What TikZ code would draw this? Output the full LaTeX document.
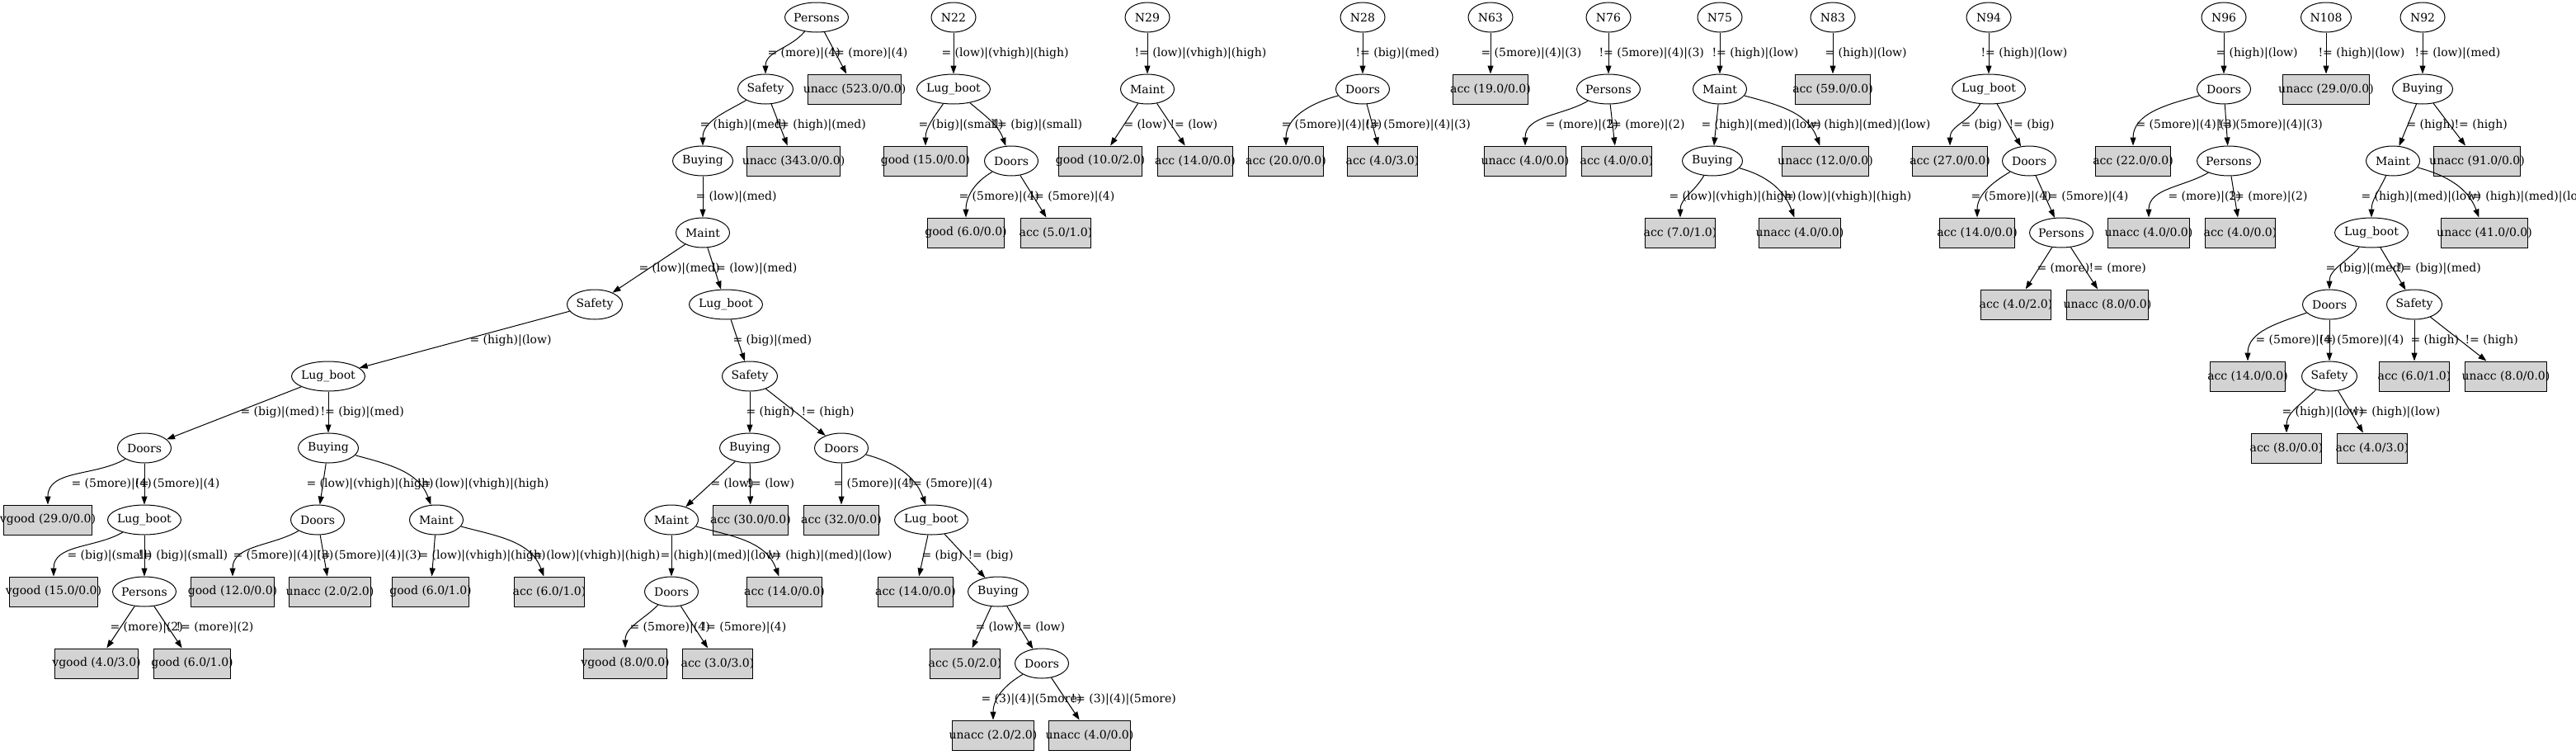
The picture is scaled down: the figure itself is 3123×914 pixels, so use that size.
\documentclass[tikz,border=0pt]{standalone}
\usepackage{fontspec}
\setmainfont{DejaVu Serif}
\newfontfamily\timesfont{Liberation Serif}
\usetikzlibrary{shapes.geometric,arrows.meta}
\definecolor{leafgray}{HTML}{D3D3D3}

% leaf boxes are as wide as the Times text, attribute text does not size its ellipse
\newlength\leafwd
\newcommand\leaftxt[1]{\settowidth\leafwd{\timesfont #1}\makebox[\leafwd]{#1}}
\newcommand\attrtxt[1]{\makebox[0pt]{#1}}

\begin{document}
\begin{tikzpicture}[x=1bp,y=1bp,-{Triangle[length=10bp,width=7bp]},line width=1bp,font=\fontsize{14bp}{17bp}\selectfont]
				\tikzstyle{attr}=[ellipse,draw,minimum width=54bp,minimum height=36bp,inner sep=0pt]
			    \tikzstyle{leaf}=[rectangle,draw,fill=leafgray,minimum height=36bp,inner xsep=7bp,inner ysep=0pt]
			    \tikzstyle{lbl}=[anchor=west,inner sep=0pt]
			    \tikzstyle{lc}=[out=-150,in=90]
			    \tikzstyle{rc}=[out=-15,in=110]

			    \useasboundingbox (0,0) rectangle (3123,-914);

			    % Tree rooted at Persons
			    \node[attr,minimum width=77bp] (a0) at (990,-21) {\attrtxt{Persons}};
			    \node[attr,minimum width=67bp] (a1) at (928,-108) {\attrtxt{Safety}};
			    \node[leaf] (a2) at (1036,-108) {\leaftxt{unacc (523.0/0.0)}};
			    \node[attr,minimum width=73bp] (a3) at (852,-195) {\attrtxt{Buying}};
			    \node[leaf] (a4) at (962,-195) {\leaftxt{unacc (343.0/0.0)}};
			    \node[attr,minimum width=65bp] (a5) at (852,-282) {\attrtxt{Maint}};
			    \node[attr,minimum width=67bp] (a6) at (721,-369) {\attrtxt{Safety}};
			    \node[attr,minimum width=89bp] (a7) at (880,-369) {\attrtxt{Lug\_boot}};
			    \node[attr,minimum width=89bp] (a8) at (398,-456) {\attrtxt{Lug\_boot}};
			    \node[attr,minimum width=67bp] (a9) at (909,-456) {\attrtxt{Safety}};
			    \node[attr,minimum width=65bp] (a10) at (175,-543) {\attrtxt{Doors}};
			    \node[attr,minimum width=73bp] (a11) at (398,-543) {\attrtxt{Buying}};
			    \node[attr,minimum width=73bp] (a12) at (909,-543) {\attrtxt{Buying}};
			    \node[attr,minimum width=65bp] (a13) at (1020,-543) {\attrtxt{Doors}};
			    \node[leaf] (a14) at (58,-630) {\leaftxt{vgood (29.0/0.0)}};
			    \node[attr,minimum width=89bp] (a15) at (175,-630) {\attrtxt{Lug\_boot}};
			    \node[attr,minimum width=65bp] (a16) at (385,-630) {\attrtxt{Doors}};
			    \node[attr,minimum width=65bp] (a17) at (529,-630) {\attrtxt{Maint}};
			    \node[attr,minimum width=65bp] (a18) at (814,-630) {\attrtxt{Maint}};
			    \node[leaf] (a19) at (910,-630) {\leaftxt{acc (30.0/0.0)}};
			    \node[leaf] (a20) at (1020,-630) {\leaftxt{acc (32.0/0.0)}};
			    \node[attr,minimum width=89bp] (a21) at (1129,-630) {\attrtxt{Lug\_boot}};
			    \node[leaf] (a22) at (65,-717) {\leaftxt{vgood (15.0/0.0)}};
			    \node[attr,minimum width=77bp] (a23) at (175,-717) {\attrtxt{Persons}};
			    \node[leaf] (a24) at (282,-717) {\leaftxt{good (12.0/0.0)}};
			    \node[leaf] (a25) at (400,-717) {\leaftxt{unacc (2.0/2.0)}};
			    \node[leaf] (a26) at (522,-717) {\leaftxt{good (6.0/1.0)}};
			    \node[leaf] (a27) at (666,-717) {\leaftxt{acc (6.0/1.0)}};
			    \node[attr,minimum width=65bp] (a28) at (814,-717) {\attrtxt{Doors}};
			    \node[leaf] (a29) at (951,-717) {\leaftxt{acc (14.0/0.0)}};
			    \node[leaf] (a30) at (1110,-717) {\leaftxt{acc (14.0/0.0)}};
			    \node[attr,minimum width=73bp] (a31) at (1210,-717) {\attrtxt{Buying}};
			    \node[leaf] (a32) at (117,-804) {\leaftxt{vgood (4.0/3.0)}};
			    \node[leaf] (a33) at (233,-804) {\leaftxt{good (6.0/1.0)}};
			    \node[leaf] (a34) at (758,-804) {\leaftxt{vgood (8.0/0.0)}};
			    \node[leaf] (a35) at (870,-804) {\leaftxt{acc (3.0/3.0)}};
			    \node[leaf] (a36) at (1170,-804) {\leaftxt{acc (5.0/2.0)}};
			    \node[attr,minimum width=65bp] (a37) at (1263,-804) {\attrtxt{Doors}};
			    \node[leaf] (a38) at (1204,-891) {\leaftxt{unacc (2.0/2.0)}};
			    \node[leaf] (a39) at (1321,-891) {\leaftxt{unacc (4.0/0.0)}};

			    \path (a0) edge[out=-130,in=90] (a1);  \node[lbl] (la1) at (930,-64.5) {= (more)|(4)};
			    \path (a0) edge (a2);                  \node[lbl] (la2) at (1006,-64.5) {!= (more)|(4)};
			    \path (a1) edge[lc] (a3);              \node[lbl] (la3) at (848,-151.5) {= (high)|(med)};
			    \path (a1) edge (a4);                  \node[lbl] (la4) at (939,-151.5) {!= (high)|(med)};
			    \path (a3) edge (a5);                  \node[lbl] (la5) at (843,-238.5) {= (low)|(med)};
			    \path (a5) edge (a6);                  \node[lbl] (la6) at (774,-325.5) {= (low)|(med)};
			    \path (a5) edge (a7);                  \node[lbl] (la7) at (862,-325.5) {!= (low)|(med)};
			    \path (a6) edge (a8);                  \node[lbl] (la8) at (569,-412.5) {= (high)|(low)};
			    \path (a7) edge (a9);                  \node[lbl] (la9) at (888,-412.5) {= (big)|(med)};
			    \path (a8) edge (a10);                 \node[lbl] (la10) at (291,-499.5) {= (big)|(med)};
			    \path (a8) edge (a11);                 \node[lbl] (la11) at (388,-499.5) {!= (big)|(med)};
			    \path (a9) edge (a12);                 \node[lbl] (la12) at (904,-499.5) {= (high)};
			    \path (a9) edge (a13);                 \node[lbl] (la13) at (971,-499.5) {!= (high)};
			    \path (a10) edge[lc] (a14);            \node[lbl] (la14) at (86,-586.5) {= (5more)|(4)};
			    \path (a10) edge (a15);                \node[lbl] (la15) at (163,-586.5) {!= (5more)|(4)};
			    \path (a11) edge (a16);                \node[lbl] (la16) at (371,-586.5) {= (low)|(vhigh)|(high)};
			    \path (a11) edge[rc] (a17);            \node[lbl] (la17) at (505,-586.5) {!= (low)|(vhigh)|(high)};
			    \path (a12) edge (a18);                \node[lbl] (la18) at (861,-586.5) {= (low)};
			    \path (a12) edge (a19);                \node[lbl] (la19) at (905,-586.5) {!= (low)};
			    \path (a13) edge (a20);                \node[lbl] (la20) at (1010,-586.5) {= (5more)|(4)};
			    \path (a13) edge[rc] (a21);            \node[lbl] (la21) at (1100,-586.5) {!= (5more)|(4)};
			    \path (a15) edge[lc] (a22);            \node[lbl] (la22) at (81,-673.5) {= (big)|(small)};
			    \path (a15) edge (a23);                \node[lbl] (la23) at (167,-673.5) {!= (big)|(small)};
			    \path (a16) edge[lc] (a24);            \node[lbl] (la24) at (282,-673.5) {= (5more)|(4)|(3)};
			    \path (a16) edge (a25);                \node[lbl] (la25) at (383,-673.5) {!= (5more)|(4)|(3)};
			    \path (a17) edge (a26);                \node[lbl] (la26) at (507,-673.5) {= (low)|(vhigh)|(high)};
			    \path (a17) edge[rc] (a27);            \node[lbl] (la27) at (640,-673.5) {!= (low)|(vhigh)|(high)};
			    \path (a18) edge (a28);                \node[lbl] (la28) at (800,-673.5) {= (high)|(med)|(low)};
			    \path (a18) edge[rc] (a29);            \node[lbl] (la29) at (930,-673.5) {!= (high)|(med)|(low)};
			    \path (a21) edge (a30);                \node[lbl] (la30) at (1117,-673.5) {= (big)};
			    \path (a21) edge (a31);                \node[lbl] (la31) at (1173,-673.5) {!= (big)};
			    \path (a23) edge (a32);                \node[lbl] (la32) at (133,-760.5) {= (more)|(2)};
			    \path (a23) edge (a33);                \node[lbl] (la33) at (213,-760.5) {!= (more)|(2)};
			    \path (a28) edge[out=-135,in=90] (a34); \node[lbl] (la34) at (763,-760.5) {= (5more)|(4)};
			    \path (a28) edge (a35);                \node[lbl] (la35) at (850,-760.5) {!= (5more)|(4)};
			    \path (a31) edge (a36);                \node[lbl] (la36) at (1182,-760.5) {= (low)};
			    \path (a31) edge (a37);                \node[lbl] (la37) at (1233,-760.5) {!= (low)};
			    \path (a37) edge[lc] (a38);            \node[lbl] (la38) at (1189,-847.5) {= (3)|(4)|(5more)};
			    \path (a37) edge (a39);                \node[lbl] (la39) at (1298,-847.5) {!= (3)|(4)|(5more)};

			    % N22
			    \node[attr] (b0) at (1156,-21) {\attrtxt{N22}};
			    \node[attr,minimum width=89bp] (b1) at (1156,-108) {\attrtxt{Lug\_boot}};
			    \node[leaf] (b2) at (1122,-195) {\leaftxt{good (15.0/0.0)}};
			    \node[attr,minimum width=65bp] (b3) at (1226,-195) {\attrtxt{Doors}};
			    \node[leaf] (b4) at (1171,-282) {\leaftxt{good (6.0/0.0)}};
			    \node[leaf] (b5) at (1280,-282) {\leaftxt{acc (5.0/1.0)}};
			    \path (b0) edge (b1);                  \node[lbl] (lb1) at (1141,-64.5) {= (low)|(vhigh)|(high)};
			    \path (b1) edge[out=-125,in=90] (b2);  \node[lbl] (lb2) at (1113,-151.5) {= (big)|(small)};
			    \path (b1) edge[out=-40,in=110] (b3);  \node[lbl] (lb3) at (1203,-151.5) {!= (big)|(small)};
			    \path (b3) edge[lc] (b4);              \node[lbl] (lb4) at (1162,-238.5) {= (5more)|(4)};
			    \path (b3) edge (b5);                  \node[lbl] (lb5) at (1248,-238.5) {!= (5more)|(4)};

			    % N29
			    \node[attr] (c0) at (1391,-21) {\attrtxt{N29}};
			    \node[attr,minimum width=65bp] (c1) at (1391,-108) {\attrtxt{Maint}};
			    \node[leaf] (c2) at (1334,-195) {\leaftxt{good (10.0/2.0)}};
			    \node[leaf] (c3) at (1449,-195) {\leaftxt{acc (14.0/0.0)}};
			    \path (c0) edge (c1);                  \node[lbl] (lc1) at (1375,-64.5) {!= (low)|(vhigh)|(high)};
			    \path (c1) edge (c2);                  \node[lbl] (lc2) at (1362,-151.5) {= (low)};
			    \path (c1) edge (c3);                  \node[lbl] (lc3) at (1418,-151.5) {!= (low)};

			    % N28
			    \node[attr] (d0) at (1652,-21) {\attrtxt{N28}};
			    \node[attr,minimum width=65bp] (d1) at (1652,-108) {\attrtxt{Doors}};
			    \node[leaf] (d2) at (1559,-195) {\leaftxt{acc (20.0/0.0)}};
			    \node[leaf] (d3) at (1676,-195) {\leaftxt{acc (4.0/3.0)}};
			    \path (d0) edge (d1);                  \node[lbl] (ld1) at (1643,-64.5) {!= (big)|(med)};
			    \path (d1) edge[out=-165,in=90] (d2);  \node[lbl] (ld2) at (1553,-151.5) {= (5more)|(4)|(3)};
			    \path (d1) edge (d3);                  \node[lbl] (ld3) at (1655,-151.5) {!= (5more)|(4)|(3)};

			    % N63
			    \node[attr] (e0) at (1807,-21) {\attrtxt{N63}};
			    \node[leaf] (e1) at (1807,-108) {\leaftxt{acc (19.0/0.0)}};
			    \path (e0) edge (e1);                  \node[lbl] (le1) at (1795,-64.5) {= (5more)|(4)|(3)};

			    % N76
			    \node[attr] (f0) at (1950,-21) {\attrtxt{N76}};
			    \node[attr,minimum width=77bp] (f1) at (1950,-108) {\attrtxt{Persons}};
			    \node[leaf] (f2) at (1849,-195) {\leaftxt{unacc (4.0/0.0)}};
			    \node[leaf] (f3) at (1960,-195) {\leaftxt{acc (4.0/0.0)}};
			    \path (f0) edge (f1);                  \node[lbl] (lf1) at (1938,-64.5) {!= (5more)|(4)|(3)};
			    \path (f1) edge[lc] (f2);              \node[lbl] (lf2) at (1873,-151.5) {= (more)|(2)};
			    \path (f1) edge (f3);                  \node[lbl] (lf3) at (1948,-151.5) {!= (more)|(2)};

			    % N75
			    \node[attr] (g0) at (2085,-21) {\attrtxt{N75}};
			    \node[attr,minimum width=65bp] (g1) at (2085,-108) {\attrtxt{Maint}};
			    \node[attr,minimum width=73bp] (g2) at (2076,-195) {\attrtxt{Buying}};
			    \node[leaf] (g3) at (2213,-195) {\leaftxt{unacc (12.0/0.0)}};
			    \node[leaf] (g4) at (2037,-282) {\leaftxt{acc (7.0/1.0)}};
			    \node[leaf] (g5) at (2182,-282) {\leaftxt{unacc (4.0/0.0)}};
			    \path (g0) edge (g1);                  \node[lbl] (lg1) at (2075,-64.5) {!= (high)|(low)};
			    \path (g1) edge (g2);                  \node[lbl] (lg2) at (2062,-151.5) {= (high)|(med)|(low)};
			    \path (g1) edge[rc] (g3);              \node[lbl] (lg3) at (2189,-151.5) {!= (high)|(med)|(low)};
			    \path (g2) edge[out=-120,in=90] (g4);  \node[lbl] (lg4) at (2023,-238.5) {= (low)|(vhigh)|(high)};
			    \path (g2) edge[rc] (g5);              \node[lbl] (lg5) at (2157,-238.5) {!= (low)|(vhigh)|(high)};

			    % N83
			    \node[attr] (h0) at (2222,-21) {\attrtxt{N83}};
			    \node[leaf] (h1) at (2222,-108) {\leaftxt{acc (59.0/0.0)}};
			    \path (h0) edge (h1);                  \node[lbl] (lh1) at (2212,-64.5) {= (high)|(low)};

			    % N94
			    \node[attr] (i0) at (2411,-21) {\attrtxt{N94}};
			    \node[attr,minimum width=89bp] (i1) at (2411,-108) {\attrtxt{Lug\_boot}};
			    \node[leaf] (i2) at (2364,-195) {\leaftxt{acc (27.0/0.0)}};
			    \node[attr,minimum width=65bp] (i3) at (2460,-195) {\attrtxt{Doors}};
			    \node[leaf] (i4) at (2397,-282) {\leaftxt{acc (14.0/0.0)}};
			    \node[attr,minimum width=77bp] (i5) at (2499,-282) {\attrtxt{Persons}};
			    \node[leaf] (i6) at (2444,-369) {\leaftxt{acc (4.0/2.0)}};
			    \node[leaf] (i7) at (2555,-369) {\leaftxt{unacc (8.0/0.0)}};
			    \path (i0) edge (i1);                  \node[lbl] (li1) at (2401,-64.5) {!= (high)|(low)};
			    \path (i1) edge[out=-120,in=90] (i2);  \node[lbl] (li2) at (2377,-151.5) {= (big)};
			    \path (i1) edge (i3);                  \node[lbl] (li3) at (2435,-151.5) {!= (big)};
			    \path (i3) edge[lc] (i4);              \node[lbl] (li4) at (2389,-238.5) {= (5more)|(4)};
			    \path (i3) edge (i5);                  \node[lbl] (li5) at (2477,-238.5) {!= (5more)|(4)};
			    \path (i5) edge (i6);                  \node[lbl] (li6) at (2469,-325.5) {= (more)};
			    \path (i5) edge (i7);                  \node[lbl] (li7) at (2532,-325.5) {!= (more)};

			    % N96
			    \node[attr] (j0) at (2696,-21) {\attrtxt{N96}};
			    \node[attr,minimum width=65bp] (j1) at (2696,-108) {\attrtxt{Doors}};
			    \node[leaf] (j2) at (2586,-195) {\leaftxt{acc (22.0/0.0)}};
			    \node[attr,minimum width=77bp] (j3) at (2702,-195) {\attrtxt{Persons}};
			    \node[leaf] (j4) at (2605,-282) {\leaftxt{unacc (4.0/0.0)}};
			    \node[leaf] (j5) at (2716,-282) {\leaftxt{acc (4.0/0.0)}};
			    \path (j0) edge (j1);                  \node[lbl] (lj1) at (2686,-64.5) {= (high)|(low)};
			    \path (j1) edge[out=-165,in=90] (j2);  \node[lbl] (lj2) at (2589,-151.5) {= (5more)|(4)|(3)};
			    \path (j1) edge (j3);                  \node[lbl] (lj3) at (2688,-151.5) {!= (5more)|(4)|(3)};
			    \path (j3) edge[lc] (j4);              \node[lbl] (lj4) at (2628,-238.5) {= (more)|(2)};
			    \path (j3) edge (j5);                  \node[lbl] (lj5) at (2703,-238.5) {!= (more)|(2)};

			    % N108
			    \node[attr,minimum width=61bp] (k0) at (2820,-21) {\attrtxt{N108}};
			    \node[leaf] (k1) at (2820,-108) {\leaftxt{unacc (29.0/0.0)}};
			    \path (k0) edge (k1);                  \node[lbl] (lk1) at (2810,-64.5) {!= (high)|(low)};

			    % N92
			    \node[attr] (l0) at (2937,-21) {\attrtxt{N92}};
			    \node[attr,minimum width=73bp] (l1) at (2937,-108) {\attrtxt{Buying}};
			    \node[attr,minimum width=65bp] (l2) at (2901,-195) {\attrtxt{Maint}};
			    \node[leaf] (l3) at (3003,-195) {\leaftxt{unacc (91.0/0.0)}};
			    \node[attr,minimum width=89bp] (l4) at (2875,-282) {\attrtxt{Lug\_boot}};
			    \node[leaf] (l5) at (3012,-282) {\leaftxt{unacc (41.0/0.0)}};
			    \node[attr,minimum width=65bp] (l6) at (2824,-369) {\attrtxt{Doors}};
			    \node[attr,minimum width=67bp] (l7) at (2927,-369) {\attrtxt{Safety}};
			    \node[leaf] (l8) at (2725,-456) {\leaftxt{acc (14.0/0.0)}};
			    \node[attr,minimum width=67bp] (l9) at (2824,-456) {\attrtxt{Safety}};
			    \node[leaf] (l10) at (2927,-456) {\leaftxt{acc (6.0/1.0)}};
			    \node[leaf] (l11) at (3038,-456) {\leaftxt{unacc (8.0/0.0)}};
			    \node[leaf] (l12) at (2772,-543) {\leaftxt{acc (8.0/0.0)}};
			    \node[leaf] (l13) at (2876,-543) {\leaftxt{acc (4.0/3.0)}};
			    \path (l0) edge (l1);                  \node[lbl] (ll1) at (2927,-64.5) {!= (low)|(med)};
			    \path (l1) edge (l2);                  \node[lbl] (ll2) at (2917,-151.5) {= (high)};
			    \path (l1) edge (l3);                  \node[lbl] (ll3) at (2975,-151.5) {!= (high)};
			    \path (l2) edge[out=-115,in=90] (l4);  \node[lbl] (ll4) at (2862,-238.5) {= (high)|(med)|(low)};
			    \path (l2) edge[rc] (l5);              \node[lbl] (ll5) at (2991,-238.5) {!= (high)|(med)|(low)};
			    \path (l4) edge[out=-130,in=90] (l6);  \node[lbl] (ll6) at (2819,-325.5) {= (big)|(med)};
			    \path (l4) edge (l7);                  \node[lbl] (ll7) at (2906,-325.5) {!= (big)|(med)};
			    \path (l6) edge[out=-160,in=90] (l8);  \node[lbl] (ll8) at (2734,-412.5) {= (5more)|(4)};
			    \path (l6) edge (l9);                  \node[lbl] (ll9) at (2811,-412.5) {!= (5more)|(4)};
			    \path (l7) edge (l10);                 \node[lbl] (ll10) at (2922,-412.5) {= (high)};
			    \path (l7) edge (l11);                 \node[lbl] (ll11) at (2988,-412.5) {!= (high)};
			    \path (l9) edge[out=-135,in=90] (l12); \node[lbl] (ll12) at (2766,-499.5) {= (high)|(low)};
			    \path (l9) edge (l13);                 \node[lbl] (ll13) at (2853,-499.5) {!= (high)|(low)};

			\end{tikzpicture}
\end{document}
